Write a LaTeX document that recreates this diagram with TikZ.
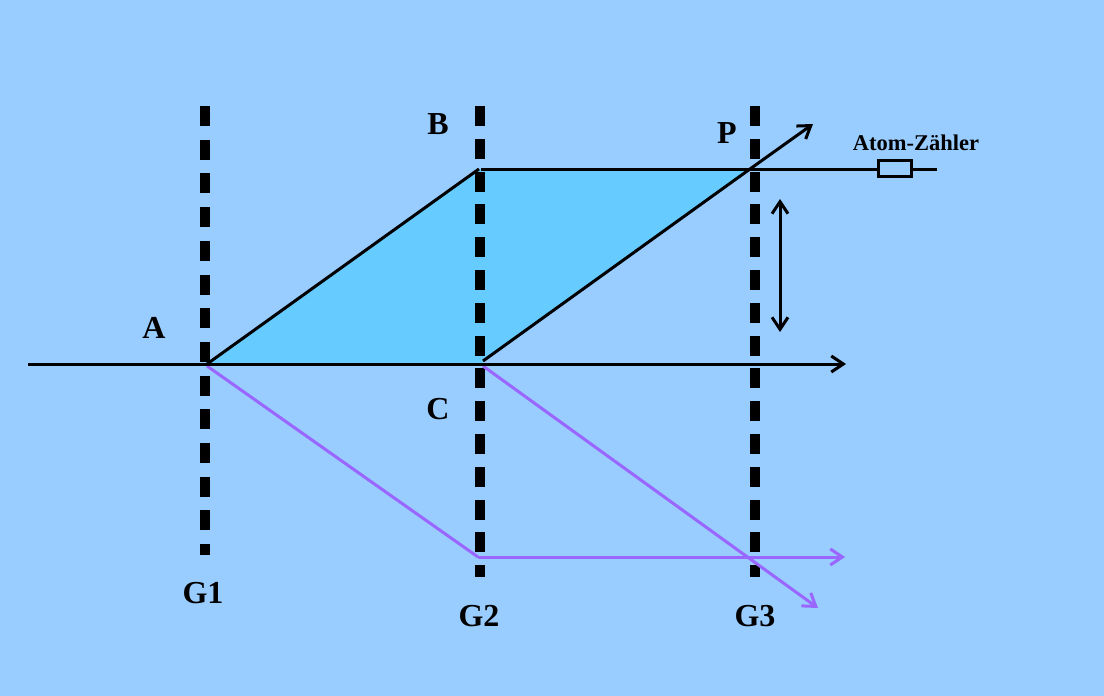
\documentclass[tikz,border=0pt]{standalone}
\usepackage{fontspec}
\setmainfont{Liberation Serif}
\usetikzlibrary{arrows.meta}
\definecolor{bgblue}{HTML}{99CCFF}
\definecolor{fillblue}{HTML}{66CCFF}
\definecolor{beampurple}{HTML}{9966FF}
\tikzset{
  grating/.style={line width=10pt, dash pattern=on 20pt off 13.7pt},
  gratingb/.style={line width=10pt, dash pattern=on 20pt off 12.8pt},
  beam/.style={line width=3pt, black},
  pbeam/.style={line width=3pt, beampurple},
  tip/.style={-{Straight Barb[length=12pt,width=16pt,line width=3pt]}},
  lbl/.style={font=\fontsize{32}{36}\selectfont\bfseries, anchor=base, inner sep=0pt},
  smalllbl/.style={font=\fontsize{22.5}{26}\selectfont\bfseries, anchor=base, inner sep=0pt},
}
\begin{document}
\begin{tikzpicture}[x=1pt,y=-1pt]
\fill[bgblue] (0,0) rectangle (1104,696);
\useasboundingbox (0,0) rectangle (1104,696);
% points
\coordinate (A) at (207,364);
\coordinate (B) at (479,169);
\coordinate (B2) at (481,169);
\coordinate (P) at (750,169);
\coordinate (C) at (483,361);
\coordinate (Cb) at (483,364);
\coordinate (L0) at (28,364);
\coordinate (L1) at (846,364);
\coordinate (Pt) at (813,124);
\coordinate (T1) at (877,169);
\coordinate (T2) at (913,169);
\coordinate (T3) at (937,169);
\coordinate (Ap) at (207,366);
\coordinate (Cp) at (483,366);
\coordinate (Q) at (478,557);
\coordinate (Q1) at (845,557);
\coordinate (R) at (818,608);
\coordinate (V1) at (780,199);
\coordinate (V2) at (780,332);
% fill
\fill[fillblue] (A) -- (B) -- (P) -- (C) -- (Cb) -- cycle;
% gratings
\draw[grating] (205,106) -- (205,555);
\draw[gratingb] (480,106) -- (480,577);
\draw[gratingb] (755,106) -- (755,577);
% purple beams
\draw[pbeam] (Ap) -- (Q);
\draw[pbeam,tip] (Q) -- (Q1);
\draw[pbeam,tip] (Cp) -- (R);
% black beams
\draw[beam,tip] (L0) -- (L1);
\draw[beam] (A) -- (B);
\draw[beam] (B2) -- (T1);
\draw[beam,tip] (C) -- (P) -- (Pt);
\draw[beam] (T2) -- (T3);
\node[draw, line width=3pt, minimum width=33pt, minimum height=16pt, inner sep=0pt, fill=bgblue] (det) at (895,168) {};
\draw[beam,{Straight Barb[length=12pt,width=16pt,line width=3pt]}-{Straight Barb[length=12pt,width=16pt,line width=3pt]}] (V1) -- (V2);
% labels
\node[lbl] (lA) at (154,338) {A};
\node[lbl] (lB) at (438,134) {B};
\node[lbl] (lP) at (727,143) {P};
\node[lbl] (lC) at (438,419) {C};
\node[lbl] (lG1) at (203,603) {G1};
\node[lbl] (lG2) at (479,626) {G2};
\node[lbl] (lG3) at (755,626) {G3};
\node[smalllbl] (lZ) at (916,150) {Atom-Zähler};
\end{tikzpicture}
\end{document}
